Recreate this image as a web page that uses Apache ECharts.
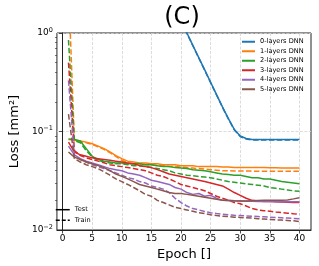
<!DOCTYPE html>
<html><head><meta charset="utf-8">
<script src="https://cdn.jsdelivr.net/npm/echarts@6/dist/echarts.min.js"></script>
<style>html,body{margin:0;padding:0;background:#fff}#c{width:319px;height:266px}</style>
</head><body><div id="c"></div>
<script>
const epochs = [1,2,3,4,5,6,7,8,9,10,11,12,13,14,15,16,17,18,19,20,21,22,23,24,25,26,27,28,29,30,31,32,33,34,35,36,37,38,39,40];
const xTicks = [0,5,10,15,20,25,30,35,40];
const yMinorTicks = [0.02,0.03,0.04,0.05,0.06,0.07,0.08,0.09,0.2,0.3,0.4,0.5,0.6,0.7,0.8,0.9];
const layerNames = ['0-layers DNN','1-layers DNN','2-layers DNN','3-layers DNN','4-layers DNN','5-layers DNN'];
const styleNames = ['Test','Train'];

const test0 = [316,237,178,133,100,75,56,42,31.6,23.7,17.8,13.3,10,7.5,5.6,4.2,3.16,2.37,1.78,1.33,1.0,0.75,0.562,0.422,0.316,0.237,0.178,0.135,0.105,0.090,0.085,0.083,0.083,0.083,0.083,0.083,0.083,0.083,0.083,0.083];
const train0 = [312,234,176,132,99,74,55.5,41.6,31.3,23.5,17.6,13.2,9.9,7.4,5.55,4.16,3.13,2.35,1.76,1.32,0.99,0.743,0.557,0.418,0.313,0.235,0.176,0.134,0.104,0.089,0.084,0.082,0.082,0.082,0.082,0.082,0.082,0.082,0.082,0.082];
const test1 = [0.083,0.082,0.080,0.078,0.075,0.071,0.067,0.062,0.057,0.053,0.050,0.049,0.048,0.048,0.047,0.047,0.046,0.046,0.046,0.045,0.045,0.045,0.044,0.044,0.044,0.044,0.0435,0.0435,0.043,0.043,0.043,0.043,0.043,0.043,0.0428,0.0428,0.0427,0.0427,0.0426,0.0426];
const train1 = [3.0,0.081,0.079,0.077,0.074,0.070,0.066,0.061,0.056,0.051,0.048,0.047,0.047,0.046,0.046,0.045,0.045,0.044,0.044,0.0437,0.043,0.0425,0.042,0.0415,0.041,0.0405,0.040,0.040,0.0398,0.0397,0.0397,0.0396,0.0396,0.0395,0.0395,0.0395,0.0394,0.0394,0.0394,0.0394];
const test2 = [0.084,0.083,0.080,0.067,0.056,0.052,0.050,0.049,0.048,0.048,0.047,0.047,0.047,0.046,0.046,0.045,0.044,0.044,0.043,0.0425,0.042,0.041,0.0405,0.040,0.039,0.038,0.037,0.0365,0.036,0.036,0.035,0.034,0.034,0.033,0.033,0.032,0.031,0.0305,0.030,0.0295];
const train2 = [0.85,0.081,0.077,0.064,0.055,0.051,0.049,0.048,0.047,0.047,0.046,0.045,0.045,0.044,0.043,0.042,0.041,0.040,0.038,0.037,0.036,0.0355,0.035,0.0345,0.034,0.033,0.032,0.031,0.0305,0.030,0.0295,0.029,0.0285,0.028,0.027,0.0265,0.026,0.0255,0.025,0.0247];
const test3 = [0.078,0.062,0.058,0.056,0.054,0.053,0.052,0.051,0.050,0.049,0.048,0.047,0.045,0.044,0.043,0.041,0.039,0.037,0.036,0.035,0.034,0.033,0.032,0.031,0.030,0.029,0.028,0.026,0.024,0.0225,0.021,0.020,0.0197,0.0195,0.0196,0.0194,0.0192,0.0191,0.0190,0.0190];
const train3 = [0.50,0.064,0.057,0.054,0.052,0.050,0.048,0.046,0.045,0.044,0.043,0.042,0.041,0.040,0.038,0.036,0.035,0.033,0.031,0.029,0.028,0.027,0.026,0.025,0.0235,0.022,0.021,0.020,0.019,0.0185,0.0175,0.0165,0.016,0.0157,0.0155,0.0152,0.015,0.0148,0.0146,0.0145];
const test4 = [0.071,0.058,0.053,0.050,0.048,0.046,0.044,0.042,0.041,0.040,0.038,0.037,0.036,0.034,0.032,0.031,0.030,0.029,0.027,0.026,0.024,0.023,0.0235,0.022,0.0225,0.021,0.020,0.0198,0.0197,0.0197,0.0196,0.0196,0.0195,0.0195,0.0195,0.0194,0.0194,0.0194,0.0194,0.0194];
const train4 = [0.33,0.057,0.052,0.049,0.046,0.044,0.042,0.040,0.038,0.036,0.034,0.033,0.031,0.030,0.028,0.027,0.026,0.024,0.021,0.019,0.0175,0.0165,0.016,0.0154,0.015,0.0147,0.0145,0.0143,0.0141,0.014,0.0139,0.0138,0.0137,0.0136,0.0135,0.0134,0.0133,0.0132,0.0131,0.0130];
const test5 = [0.062,0.055,0.052,0.049,0.047,0.045,0.043,0.040,0.037,0.035,0.033,0.031,0.029,0.028,0.027,0.026,0.025,0.024,0.0235,0.0235,0.023,0.0225,0.022,0.0215,0.021,0.0205,0.020,0.020,0.0198,0.0197,0.0197,0.0198,0.0199,0.020,0.020,0.020,0.020,0.0202,0.0207,0.0213];
const train5 = [0.15,0.053,0.049,0.046,0.044,0.042,0.039,0.036,0.033,0.031,0.029,0.027,0.025,0.023,0.022,0.020,0.019,0.018,0.017,0.0165,0.016,0.0155,0.015,0.0147,0.0143,0.014,0.0138,0.0137,0.0135,0.0134,0.0133,0.0132,0.0130,0.0129,0.0128,0.0127,0.0126,0.0125,0.0124,0.0122];

const colors = ['#1f77b4','#ff7f0e','#2ca02c','#d62728','#9467bd','#8c564b'];
const testSets = [test0,test1,test2,test3,test4,test5];
const trainSets = [train0,train1,train2,train3,train4,train5];
const dash = [5.5,2.4];

const pairs = arr => epochs.map((e,i)=>[e,arr[i]]);
const series = [];
for (let k=0;k<6;k++){
  series.push({name:layerNames[k],type:'line',data:pairs(testSets[k]),symbol:'none',
    lineStyle:{color:colors[k],width:1.5},itemStyle:{color:colors[k]},z:2+k});
  series.push({name:layerNames[k]+' train',type:'line',data:pairs(trainSets[k]),symbol:'none',
    lineStyle:{color:colors[k],width:1.5,type:dash},itemStyle:{color:colors[k]},z:2+k});
}
series.push({name:styleNames[0],type:'line',data:[],symbol:'none',lineStyle:{color:'#000',width:1.5},itemStyle:{color:'#000'}});
series.push({name:styleNames[1],type:'line',data:[],symbol:'none',lineStyle:{color:'#000',width:1.5,type:dash},itemStyle:{color:'#000'}});

const font = 'DejaVu Sans';
const sup = v => {
  const e = Math.round(Math.log10(v));
  const s = e < 0 ? '\u2212' + (-e) : String(e);
  return '{b|10}{s|' + s + '}';
};
const hiddenSymbol = {color:'rgba(0,0,0,0)',borderColor:'rgba(0,0,0,0)',borderWidth:0,opacity:0};

const option = {
  animation:false,
  title:{text:'(C)',left:177,textAlign:'center',top:1,
    textStyle:{fontSize:24,fontWeight:'normal',fontFamily:font,color:'#000'}},
  grid:{left:50,right:8,top:33,bottom:36,show:true,borderColor:'#222',borderWidth:1},
  legend:[
    {data:layerNames,orient:'vertical',left:241,top:37,itemWidth:13,itemHeight:9.5,itemGap:0,padding:0,
     selectedMode:false,itemStyle:hiddenSymbol,textStyle:{fontSize:6.6,fontFamily:font,color:'#000',lineHeight:9.5}},
    {data:[{name:styleNames[0],lineStyle:{color:'#000',width:1.5}},
           {name:styleNames[1],lineStyle:{color:'#000',width:1.5,type:[4,2]}}],
     orient:'vertical',left:55,top:204.4,itemWidth:14,itemHeight:10.6,itemGap:0,padding:0,
     selectedMode:false,itemStyle:hiddenSymbol,textStyle:{fontSize:6.6,fontFamily:font,color:'#000',lineHeight:10.6}}
  ],
  xAxis:{type:'value',min:-0.95,max:41.95,name:'Epoch []',nameLocation:'middle',nameGap:14,
    nameTextStyle:{fontSize:13,fontFamily:font,color:'#000'},
    axisLine:{show:true,lineStyle:{color:'#222',width:1}},
    axisTick:{show:true,length:3.5,customValues:xTicks,lineStyle:{color:'#222',width:0.8}},
    axisLabel:{customValues:xTicks,fontSize:9,fontFamily:font,color:'#000',margin:4},
    splitLine:{show:true,lineStyle:{color:'#d3d3d3',width:0.8,type:[3,1.5]}}},
  yAxis:[
    {type:'log',logBase:10,min:0.01,max:1,name:'Loss [mm\u00b2]',nameLocation:'middle',nameGap:31,
     nameTextStyle:{fontSize:13,fontFamily:font,color:'#000'},
     axisLine:{show:true,lineStyle:{color:'#222',width:1}},
     axisTick:{show:true,length:3.5,lineStyle:{color:'#222',width:0.8}},
     axisLabel:{formatter:sup,margin:4,rich:{b:{fontSize:9,fontFamily:font,color:'#000'},
        s:{fontSize:6.5,fontFamily:font,color:'#000',verticalAlign:'top',padding:[0,0,6,0]}}},
     splitLine:{show:true,lineStyle:{color:'#d3d3d3',width:0.8,type:[3,1.5]}}},
    {type:'log',logBase:10,min:0.01,max:1,position:'left',offset:0,
     axisLine:{show:false},axisLabel:{show:false},splitLine:{show:false},
     axisTick:{show:true,length:2,customValues:yMinorTicks,lineStyle:{color:'#222',width:0.6}}}
  ],
  series:series
};
const chart = echarts.init(document.getElementById('c'),null,{renderer:'canvas'});
chart.setOption(option);
</script></body></html>
